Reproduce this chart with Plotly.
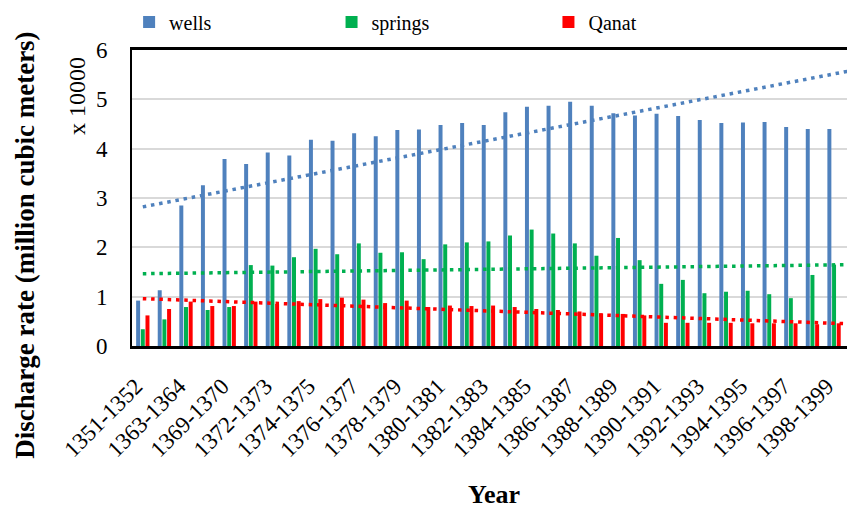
import plotly.graph_objects as go

categories = ["1351-1352", "1361-1362", "1363-1364", "1366-1367", "1369-1370", "1371-1372",
              "1372-1373", "1373-1374", "1374-1375", "1375-1376", "1376-1377", "1377-1378",
              "1378-1379", "1379-1380", "1380-1381", "1381-1382", "1382-1383", "1383-1384",
              "1384-1385", "1385-1386", "1386-1387", "1387-1388", "1388-1389", "1389-1390",
              "1390-1391", "1391-1392", "1392-1393", "1393-1394", "1394-1395", "1395-1396",
              "1396-1397", "1397-1398", "1398-1399", "1399-1400"]

wells = [0.92, 1.13, 2.85, 3.26, 3.79, 3.69, 3.92, 3.86, 4.18, 4.16, 4.31, 4.25,
         4.38, 4.39, 4.48, 4.52, 4.48, 4.74, 4.85, 4.87, 4.95, 4.87, 4.72, 4.67,
         4.71, 4.66, 4.58, 4.52, 4.53, 4.54, 4.44, 4.40, 4.40, 4.15]

springs = [0.34, 0.54, 0.79, 0.73, 0.79, 1.64, 1.63, 1.80, 1.97, 1.86, 2.08, 1.89,
           1.90, 1.76, 2.06, 2.10, 2.12, 2.24, 2.36, 2.28, 2.08, 1.83, 2.19, 1.74,
           1.26, 1.34, 1.07, 1.10, 1.12, 1.05, 0.97, 1.44, 1.65, 1.03]

qanat = [0.62, 0.75, 0.90, 0.81, 0.81, 0.90, 0.85, 0.91, 0.95, 0.98, 0.94, 0.87,
         0.92, 0.79, 0.82, 0.81, 0.82, 0.79, 0.75, 0.73, 0.70, 0.66, 0.65, 0.62,
         0.47, 0.47, 0.47, 0.47, 0.46, 0.46, 0.46, 0.44, 0.46, 0.45]

# linear trend lines (value at first and last category)
wells_trend = [2.82, 5.60]
springs_trend = [1.465, 1.65]
qanat_trend = [0.96, 0.445]

tick_labels = categories[0::2]

series_names = ["wells", "springs", "Qanat"]
colors = ["#4F81BD", "#00B050", "#FF0000"]

FONT = "Liberation Serif"

fig = go.Figure()
legends = ["legend", "legend2", "legend3"]
for name, vals, col, lg in zip(series_names, [wells, springs, qanat], colors, legends):
    fig.add_trace(go.Bar(x=categories, y=vals, name=name, marker_color=col,
                         marker_line_width=0, legend=lg))

for vals, col in zip([wells_trend, springs_trend, qanat_trend], colors):
    fig.add_trace(go.Scatter(x=[categories[0], categories[-1]], y=vals, mode="lines",
                             line=dict(color=col, width=3.5, dash="3.5px,4.8px"),
                             showlegend=False, hoverinfo="skip"))

leg_common = dict(orientation="h", yanchor="middle", xanchor="left", yref="container",
                  font=dict(family=FONT, size=20, color="#000"), bgcolor="rgba(0,0,0,0)",
                  itemwidth=30)

# the page body adds an 8px offset, so the figure is 8px smaller in each direction
fig.update_layout(
    width=847, height=502,
    margin=dict(l=124, r=0, t=42, b=164, autoexpand=False),
    paper_bgcolor="white", plot_bgcolor="white",
    barmode="group", bargap=0.35, bargroupgap=0.15,
    font=dict(family=FONT, color="#000"),
    legend=dict(x=-0.004, y=0.972, **leg_common),
    legend2=dict(x=0.276, y=0.972, **leg_common),
    legend3=dict(x=0.576, y=0.972, **leg_common),
    xaxis=dict(type="category", range=[-0.5, 32.97], tickmode="array",
               tickvals=tick_labels, ticktext=tick_labels, tickangle=-45,
               tickfont=dict(family=FONT, size=23, color="#000"),
               showline=True, linecolor="#000", linewidth=2.5, mirror=True,
               showgrid=False, ticks="", ticklabelstandoff=15, ticklabelshift=-7,
               automargin=False),
    yaxis=dict(range=[0, 6], dtick=1, tickfont=dict(family=FONT, size=23, color="#000"),
               showline=True, linecolor="#000", linewidth=2, mirror=False,
               showgrid=True, gridcolor="#D9D9D9", gridwidth=1.5,
               ticks="", ticklabelstandoff=18, zeroline=False, automargin=False),
    annotations=[
        dict(text="<b>Discharge rate (million cubic meters)</b>", xref="paper", yref="paper",
             x=-0.148, y=0.342, textangle=-90, showarrow=False,
             font=dict(family=FONT, size=27, color="#000"), xanchor="center", yanchor="middle"),
        dict(text="x 10000", xref="paper", yref="paper",
             x=-0.076, y=0.845, textangle=-90, showarrow=False,
             font=dict(family=FONT, size=24, color="#000"), xanchor="center", yanchor="middle"),
        dict(text="<b>Year</b>", xref="paper", yref="paper",
             x=0.5007, y=-0.503, showarrow=False,
             font=dict(family=FONT, size=26, color="#000"), xanchor="center", yanchor="middle"),
    ],
)

fig.write_html("out.html")
